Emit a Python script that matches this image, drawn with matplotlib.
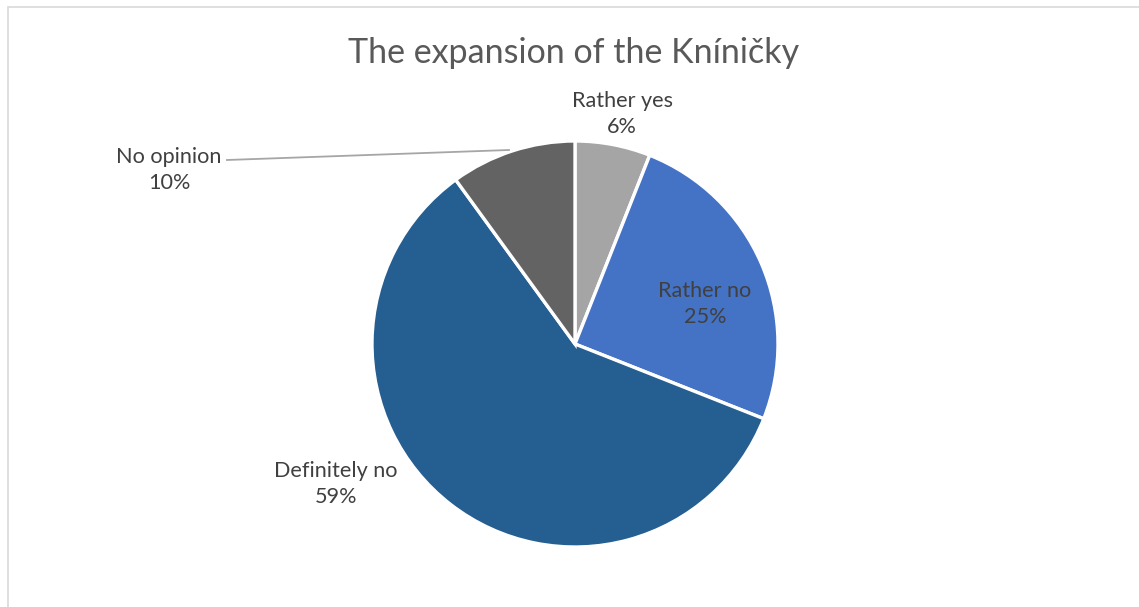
import matplotlib
matplotlib.use("Agg")
import matplotlib.pyplot as plt
from matplotlib.patches import Rectangle

# survey answers, clockwise from 12 o'clock
labels = ["Rather yes", "Rather no", "Definitely no", "No opinion"]
shares = [6, 25, 59, 10]
colors = ["#A5A5A5", "#4472C4", "#255E91", "#636363"]

W, H = 1139, 607
plt.rcParams["font.family"] = ["Lato", "DejaVu Sans"]

fig = plt.figure(figsize=(W / 100, H / 100), dpi=100)
ax = fig.add_axes([0, 0, 1, 1])

# chart frame
ax.add_patch(Rectangle((7.5, -20), W + 20, H - 6.5 + 20, fill=False,
                       edgecolor="#D9D9D9", linewidth=1.2))

cx, cy, r = 575, H - 344, 203
ax.pie(shares, colors=colors, startangle=90, counterclock=False,
       center=(cx, cy), radius=r, frame=True,
       wedgeprops=dict(edgecolor="white", linewidth=2.4))
ax.set_xlim(0, W)
ax.set_ylim(0, H)
ax.set_aspect("equal")
ax.axis("off")

ax.text(W / 2 + 4, H - 53, "The expansion of the Kníničky", ha="center",
        va="center", fontsize=24.5, color="#595959")

# data label placement (pixels from top-left)
label_pos = {
    "Rather yes": (622, 114),
    "Rather no": (705, 304),
    "Definitely no": (336, 484),
    "No opinion": (169, 170),
}
for name, val in zip(labels, shares):
    x, y = label_pos[name]
    ax.text(x, H - y, f"{name}\n{val}%", ha="center", va="center",
            fontsize=15.6, color="#404040", linespacing=1.4)

# leader line for the small slice
ax.plot([227, 509], [H - 160, H - 150], color="#A6A6A6", linewidth=1.3)

fig.savefig("out.png", dpi=100)
